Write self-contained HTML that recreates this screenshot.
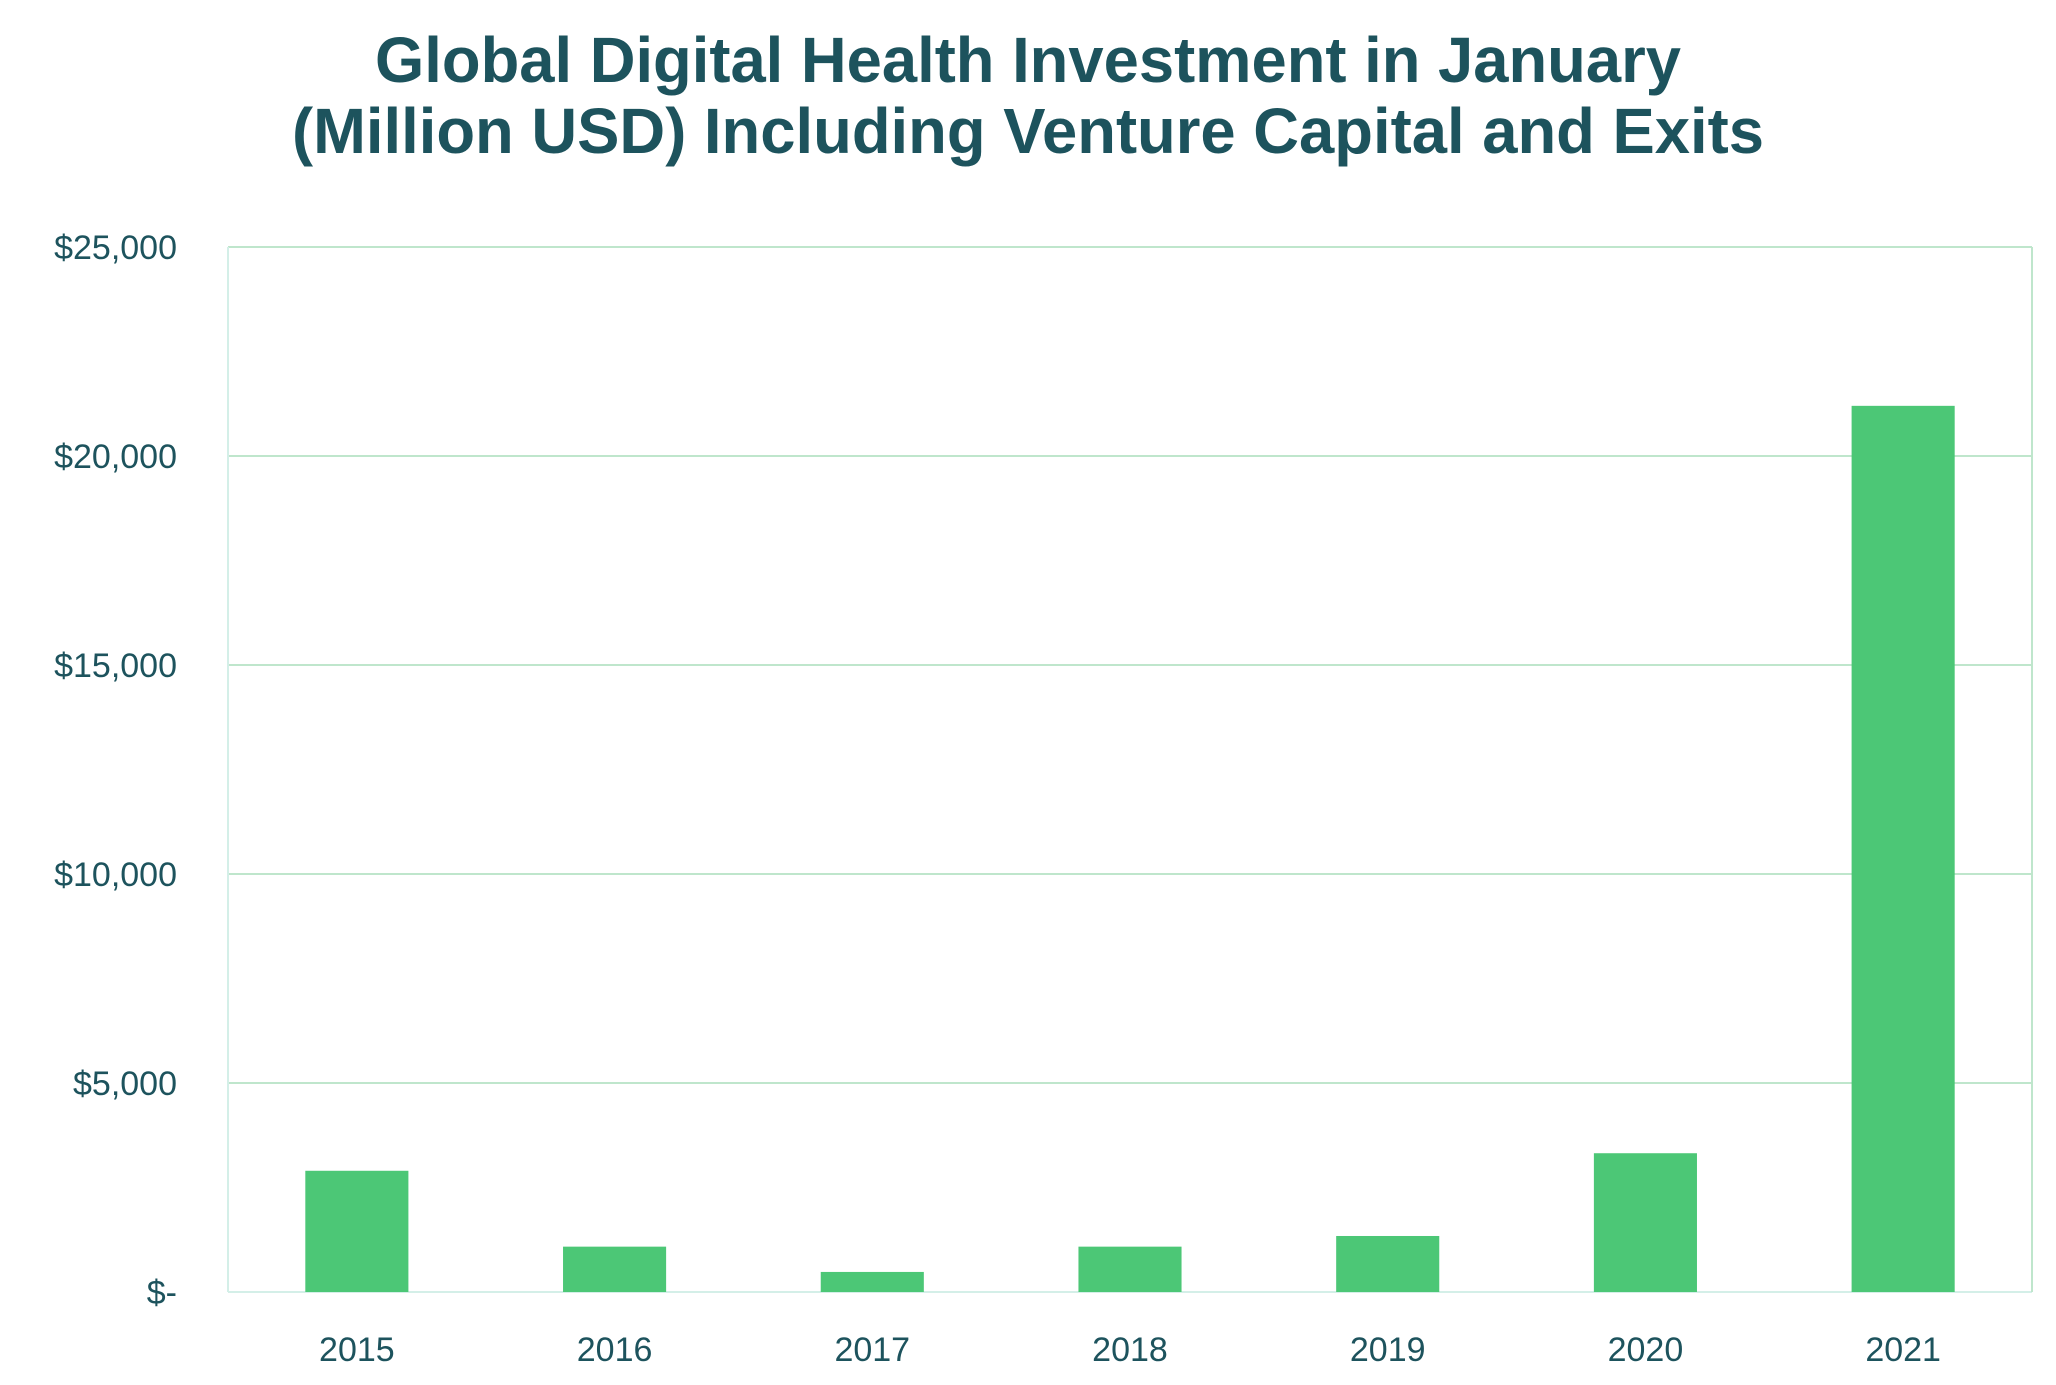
<!DOCTYPE html>
<html><head><meta charset="utf-8"><style>
html,body{margin:0;padding:0;background:#fff;}
svg{display:block;font-family:"Liberation Sans",sans-serif;}
</style></head><body>
<svg id="chart" width="2056" height="1385" viewBox="0 0 2056 1385" xmlns="http://www.w3.org/2000/svg">
<text x="1028" y="82" text-anchor="middle" font-size="64" font-weight="bold" fill="#1d535d" textLength="1306" lengthAdjust="spacingAndGlyphs">Global Digital Health Investment in January</text>
<text x="1028" y="153" text-anchor="middle" font-size="64" font-weight="bold" fill="#1d535d" textLength="1472" lengthAdjust="spacingAndGlyphs">(Million USD) Including Venture Capital and Exits</text>
<g id="grid"></g>
<g id="bars"></g>
<g id="ylabels"></g>
<g id="xlabels"></g>
</svg>
<script>
const categories = ["2015","2016","2017","2018","2019","2020","2021"];
const values = [2900, 1085, 480, 1085, 1340, 3320, 21200];
const yTicks = [0, 5000, 10000, 15000, 20000, 25000];
const yTickLabels = ["$-", "$5,000", "$10,000", "$15,000", "$20,000", "$25,000"];

const NS = "http://www.w3.org/2000/svg";
const L = 228, R = 2032, T = 247, B = 1292, YMAX = 25000;
const band = (R - L) / categories.length;
const barW = band * 0.4;
function y(v){ return B - (v / YMAX) * (B - T); }
function xc(i){ return L + band * (i + 0.5); }
function mk(tag, attrs, parent){
  const e = document.createElementNS(NS, tag);
  for (const k in attrs) e.setAttribute(k, attrs[k]);
  parent.appendChild(e);
  return e;
}
const grid = document.getElementById('grid');
yTicks.forEach((t, i) => {
  const ln = mk('line', {x1: L, x2: R, y1: y(t), y2: y(t), stroke: i === 0 ? '#d4efe8' : '#bfe6cc', 'stroke-width': 2}, grid);
  
  
});
const ax = mk('line', {x1: L, x2: L, y1: T, y2: B, stroke: '#d4efe8', 'stroke-width': 2}, grid);


const rx = mk('line', {x1: R, x2: R, y1: T, y2: B, stroke: '#bfe6cc', 'stroke-width': 2}, grid);



const bars = document.getElementById('bars');
values.forEach((v, i) => {
  const r = mk('rect', {x: xc(i) - barW / 2, y: y(v), width: barW, height: B - y(v), fill: '#4cc776'}, bars);
  
  
});
const yl = document.getElementById('ylabels');
yTicks.forEach((t, i) => {
  const tx = mk('text', {x: 177, y: y(t) + 12, 'text-anchor': 'end', 'font-size': 34, fill: '#1d535d'}, yl);
  tx.textContent = yTickLabels[i];
  
  
});
const xl = document.getElementById('xlabels');
categories.forEach((c, i) => {
  const tx = mk('text', {x: xc(i), y: 1361, 'text-anchor': 'middle', 'font-size': 34, fill: '#1d535d'}, xl);
  tx.textContent = c;
  
  
});
</script>
</body></html>
